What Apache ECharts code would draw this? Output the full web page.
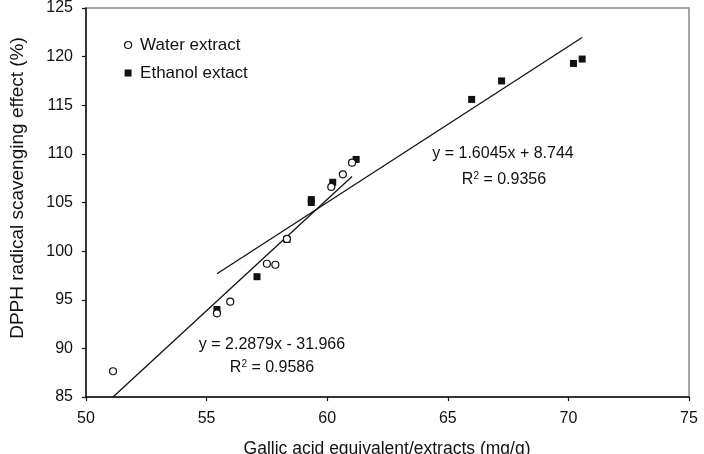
<!DOCTYPE html>
<html>
<head>
<meta charset="utf-8">
<script src="https://cdn.jsdelivr.net/npm/echarts@6/dist/echarts.min.js"></script>
<style>html,body{margin:0;padding:0;background:#fff}#c{width:704px;height:454px}</style>
</head>
<body>
<div id="c"></div>
<script>
// Data
const waterX = [51.12, 55.43, 55.98, 57.50, 57.85, 58.33, 60.17, 60.65, 61.03];
const waterY = [87.65, 93.60, 94.80, 98.70, 98.60, 101.25, 106.60, 107.90, 109.10];
const ethanolX = [55.43, 57.09, 58.33, 59.34, 59.34, 60.23, 61.20, 65.99, 67.23, 70.21, 70.57];
const ethanolY = [94.00, 97.37, 101.20, 105.30, 105.00, 107.08, 109.43, 115.60, 117.50, 119.30, 119.75];
// Trendline coefficients (from the chart's equations)
const waterFit = [2.2879, -31.966];
const ethanolFit = [1.6045, 8.744];
const seriesNames = ['Water extract', 'Ethanol extact'];
const eqTexts = ['y = 2.2879x - 31.966', '0.9586', 'y = 1.6045x + 8.744', '0.9356'];
const xTicks = [50, 55, 60, 65, 70, 75];
const yTicks = [85, 90, 95, 100, 105, 110, 115, 120, 125];
const xTitle = 'Gallic acid equivalent/extracts (mg/g)';
const yTitle = 'DPPH radical scavenging effect (%)';

const pair = (xs, ys) => xs.map((x, i) => [x, ys[i]]);
const fitLine = (xs, f) => {
  const a = Math.min(...xs), b = Math.max(...xs);
  return [[a, f[0] * a + f[1]], [b, f[0] * b + f[1]]];
};

const chart = echarts.init(document.getElementById('c'), null, {renderer: 'canvas'});
const FONT = 'Liberation Sans, Arial, sans-serif';
const TXT = '#111';

chart.setOption({
  animation: false,
  backgroundColor: '#fff',
  grid: {left: 86, right: 15, top: 8, bottom: 57, show: true, borderColor: '#8a8a8a', borderWidth: 1.5, outerBoundsMode: 'none', containLabel: false},
  xAxis: {
    type: 'value', min: xTicks[0], max: xTicks[xTicks.length - 1], interval: 5,
    axisLine: {show: true, onZero: false, lineStyle: {color: '#111', width: 1.5}},
    axisTick: {show: true, inside: false, length: 4, lineStyle: {color: '#111', width: 1.2}},
    splitLine: {show: false},
    axisLabel: {fontSize: 16, color: TXT, fontFamily: FONT, margin: 14}
  },
  yAxis: {
    type: 'value', min: yTicks[0], max: yTicks[yTicks.length - 1], interval: 5,
    axisLine: {show: true, onZero: false, lineStyle: {color: '#111', width: 1.5}},
    axisTick: {show: true, inside: false, length: 4, lineStyle: {color: '#111', width: 1.2}},
    splitLine: {show: false},
    axisLabel: {fontSize: 16, color: TXT, fontFamily: FONT, margin: 13}
  },
  legend: {
    orient: 'vertical', left: 119, top: 30, itemWidth: 14, itemHeight: 7, itemGap: 8,
    symbolKeepAspect: true,
    textStyle: {fontSize: 17, color: TXT, fontFamily: FONT, lineHeight: 20},
    data: [
      {name: seriesNames[0], icon: 'circle', itemStyle: {color: '#fff', borderColor: '#111', borderWidth: 1.2}},
      {name: seriesNames[1], icon: 'path://M0,0h10v10h-10z', itemStyle: {color: '#111', borderWidth: 0}}
    ]
  },
  series: [
    {
      name: 'ethanolFit', type: 'line', data: fitLine(ethanolX, ethanolFit), symbol: 'none',
      lineStyle: {color: '#111', width: 1.3}, silent: true, clip: true, z: 2
    },
    {
      name: 'waterFit', type: 'line', data: fitLine(waterX, waterFit), symbol: 'none',
      lineStyle: {color: '#111', width: 1.3}, silent: true, clip: true, z: 2
    },
    {
      name: seriesNames[1], type: 'scatter', data: pair(ethanolX, ethanolY), symbol: 'rect', symbolSize: 7,
      itemStyle: {color: '#111', opacity: 1}, z: 3
    },
    {
      name: seriesNames[0], type: 'scatter', data: pair(waterX, waterY), symbol: 'circle', symbolSize: 7,
      itemStyle: {color: '#fff', borderColor: '#111', borderWidth: 1.2, opacity: 1}, z: 4
    }
  ],
  graphic: [
    {type: 'text', x: 272, y: 345, style: {text: eqTexts[0], font: '16px ' + FONT, fill: TXT, align: 'center', verticalAlign: 'middle'}},
    {type: 'text', x: 272, y: 368, style: {text: 'R{s|2} = ' + eqTexts[1], font: '16px ' + FONT, fill: TXT, align: 'center', verticalAlign: 'middle',
      rich: {s: {fontSize: 10, fontFamily: FONT, fill: TXT, verticalAlign: 'top', padding: [0, 0, 8, 0]}}}},
    {type: 'text', x: 503, y: 154, style: {text: eqTexts[2], font: '16px ' + FONT, fill: TXT, align: 'center', verticalAlign: 'middle'}},
    {type: 'text', x: 504, y: 180, style: {text: 'R{s|2} = ' + eqTexts[3], font: '16px ' + FONT, fill: TXT, align: 'center', verticalAlign: 'middle',
      rich: {s: {fontSize: 10, fontFamily: FONT, fill: TXT, verticalAlign: 'top', padding: [0, 0, 8, 0]}}}},
    {type: 'text', x: 387, y: 449, style: {text: xTitle, font: '17.5px ' + FONT, fill: TXT, align: 'center', verticalAlign: 'middle'}},
    {type: 'text', x: 18, y: 188, rotation: Math.PI / 2, style: {text: yTitle, font: '19px ' + FONT, fill: TXT, align: 'center', verticalAlign: 'middle'}}
  ]
});
</script>
</body>
</html>
